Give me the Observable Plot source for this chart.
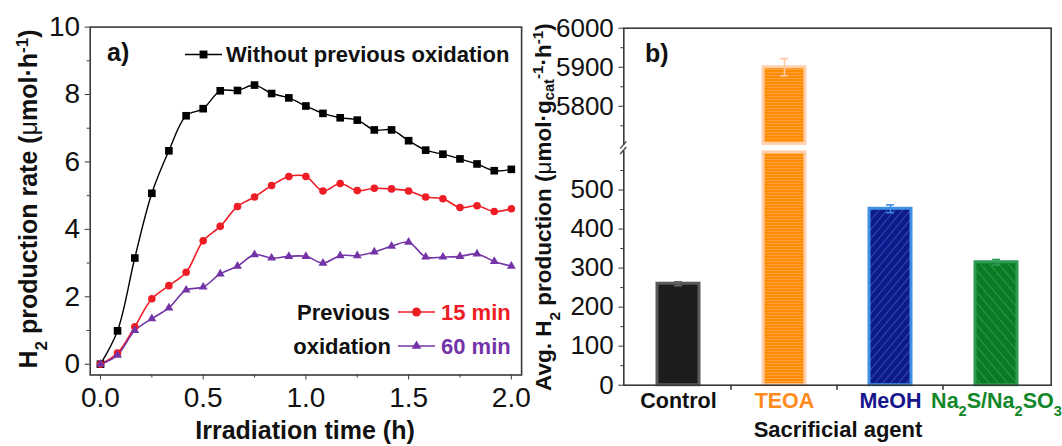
<!DOCTYPE html>
<html><head><meta charset="utf-8">
<script src="https://cdn.jsdelivr.net/npm/d3@7"></script>
<script src="https://cdn.jsdelivr.net/npm/@observablehq/plot@0.6"></script>
<style>
body{margin:0;background:#fff;}
#wrap{display:flex;width:1062px;height:446px;overflow:hidden;background:#fff;}
#wrap svg{flex:none;overflow:visible;}
</style></head><body><div id="wrap"></div>
<script>
// ---------- Panel a data ----------
const times = [0,0.083,0.167,0.25,0.333,0.417,0.5,0.583,0.667,0.75,0.833,0.917,1.0,1.083,1.167,1.25,1.333,1.417,1.5,1.583,1.667,1.75,1.833,1.917,2.0];
const withoutOx = [0,0.99,3.15,5.07,6.33,7.37,7.58,8.11,8.12,8.28,8.03,7.9,7.66,7.44,7.31,7.24,6.95,6.95,6.63,6.35,6.23,6.09,5.94,5.74,5.78];
const ox15 = [0,0.33,1.11,1.94,2.33,2.73,3.66,4.09,4.68,4.96,5.3,5.57,5.57,5.14,5.36,5.15,5.22,5.2,5.14,4.96,4.91,4.65,4.7,4.53,4.61];
const ox60 = [0,0.27,1.0,1.35,1.67,2.2,2.29,2.68,2.91,3.25,3.15,3.2,3.2,3.0,3.22,3.22,3.33,3.5,3.62,3.18,3.18,3.2,3.27,3.05,2.91];
const yTicksA = [0,2,4,6,8,10];
const yMinorA = [1,3,5,7,9];
const xTicksA = [0,0.5,1,1.5,2];
const xMinorA = [0.25,0.75,1.25,1.75];

// ---------- Panel b data ----------
const agents = ["Control","TEOA","MeOH","Na2S/Na2SO3"];
const avgH2 = [260,5900,452,315];
const errH2 = [5,22,10,7];
const yTicksB = [0,100,200,300,400,500,5800,5900,6000];
const yMinorB = [50,150,250,350,450,550,5750,5850,5950];
const breakLow = 600, breakHigh = 5700, yMaxB = 6000;

// ---------- styles ----------
const FONT_TICK = '"Liberation Sans Narrow","Arial Narrow","Liberation Sans",Arial,sans-serif';
const FONT_LAB = '"Liberation Sans",Arial,sans-serif';
const RED = "#ee1c25", PURPLE = "#7434a8", AXIS = "#3a3a3a";
const agentFill = ["#1d1d1d","url(#patTEOA)","url(#patMeOH)","url(#patNa)"];
const agentStroke = ["#5a5a5a","#ffcfae","#3f8fe6","#2c9c55"];
const agentErr = ["#666666","#ffc9a6","#3f8fe6","#2c9c55"];
const agentText = ["#111111","#ff8a1c","#16168c","#12882a"];

// ---------- Panel a ----------
const rowsW = times.map((t,i)=>({t, v: withoutOx[i]}));
const rows15 = times.map((t,i)=>({t, v: ox15[i]}));
const rows60 = times.map((t,i)=>({t, v: ox60[i]}));

const A = Plot.plot({
  width: 530, height: 446,
  marginLeft: 89.7, marginRight: 8.9, marginTop: 26.6, marginBottom: 71.5,
  x: {domain: [-0.05, 2.05]},
  y: {domain: [-0.32, 10]},
  style: {fontFamily: FONT_TICK, background: "white", color: "#111"},
  marks: [
    Plot.line(rowsW, {x:"t", y:"v", stroke:"#000", strokeWidth:1.4, curve:"catmull-rom"}),
    Plot.line(rows15, {x:"t", y:"v", stroke:RED, strokeWidth:1.6, curve:"catmull-rom"}),
    Plot.line(rows60, {x:"t", y:"v", stroke:PURPLE, strokeWidth:1.6, curve:"catmull-rom"}),
    Plot.dot(rowsW, {x:"t", y:"v", symbol:"square", fill:"#000", r:4.3}),
    Plot.dot(rows15, {x:"t", y:"v", symbol:"circle", fill:RED, r:3.8}),
    Plot.dot(rows60, {x:"t", y:"v", symbol:"triangle", fill:PURPLE, r:3.3}),
    Plot.frame({stroke: AXIS, strokeWidth: 1.6}),
    Plot.axisY({ticks: yTicksA, tickSize: 5, tickPadding: 5, fontSize: 28, label: null, stroke: AXIS, tickFormat: d => String(d)}),
    Plot.axisY({ticks: yMinorA, tickSize: 3, label: null, stroke: AXIS, tickFormat: () => ""}),
    Plot.axisX({ticks: xTicksA, tickSize: 5, tickPadding: 7, fontSize: 28, label: null, stroke: AXIS, tickFormat: d3.format(".1f")}),
    Plot.axisX({ticks: xMinorA, tickSize: 3, label: null, stroke: AXIS, tickFormat: () => ""})
  ]
});

// ---------- Panel b (broken y axis: values above the break are shifted down) ----------
const bW = 532, bML = 93.3, bMR = 11.3, bMT = 27.7, bMB = 61.3, H = 446;
const gapUnits = 14.6;
const brk = v => v <= breakLow ? v : v - breakHigh + breakLow + gapUnits;
const unbrk = u => u <= breakLow ? u : u + breakHigh - breakLow - gapUnits;

const rowsB = agents.map((a,i)=>({agent:a, v: avgH2[i], e: errH2[i], i}));
const marksB = [];
rowsB.forEach(r => {
  const segs = r.v > breakLow
    ? [{agent:r.agent, lo:0, hi:breakLow, part:"low"}, {agent:r.agent, lo:breakHigh, hi:r.v, part:"high"}]
    : [{agent:r.agent, lo:0, hi:r.v, part:"all"}];
  segs.forEach(s => marksB.push(Plot.barY([s], {
    x:"agent", y1: d => brk(d.lo), y2: d => brk(d.hi), fill: agentFill[r.i], stroke: agentStroke[r.i], strokeWidth: 3,
    insetTop: s.part==="low" ? 1.4 : 0, insetBottom: s.part==="high" ? 1.4 : 0
  })));
  marksB.push(Plot.ruleX([r], {x:"agent", y1: d=>brk(d.v-d.e), y2: d=>brk(d.v+d.e), stroke: agentErr[r.i], strokeWidth: 1.6}));
  marksB.push(Plot.tickY([r], {x:"agent", y: d=>brk(d.v+d.e), stroke: agentErr[r.i], strokeWidth: 1.6, insetLeft: 17, insetRight: 17}));
  marksB.push(Plot.tickY([r], {x:"agent", y: d=>brk(d.v-d.e), stroke: agentErr[r.i], strokeWidth: 1.6, insetLeft: 17, insetRight: 17}));
});

const B = Plot.plot({
  width: bW, height: H,
  marginLeft: bML, marginRight: bMR, marginTop: bMT, marginBottom: bMB,
  x: {domain: agents, paddingInner: 0.606, paddingOuter: 0.303},
  y: {domain: [0, brk(yMaxB)]},
  style: {fontFamily: FONT_TICK, background: "white", color: "#111"},
  marks: [
    ...marksB,
    Plot.frame({stroke: AXIS, strokeWidth: 1.6}),
    Plot.axisY({ticks: yTicksB.map(brk), tickSize: 5, tickPadding: 5, fontSize: 26, label: null, stroke: AXIS, tickFormat: u => String(Math.round(unbrk(u)))}),
    Plot.axisY({ticks: yMinorB.map(brk), tickSize: 3, label: null, stroke: AXIS, tickFormat: () => ""}),
    Plot.axisX({tickSize: 0, tickPadding: 7.5, fontSize: 21.5, label: null})
  ]
});

document.getElementById("wrap").append(A, B);

// ---------- decorations ----------
function addText(svg, o) {
  const t = d3.select(svg).append("text")
    .attr("transform", `translate(${o.x},${o.y})` + (o.rotate ? ` rotate(${o.rotate})` : ""))
    .attr("text-anchor", o.anchor || "start")
    .attr("font-size", o.size).attr("font-weight", o.weight || "bold")
    .attr("font-family", o.family || FONT_LAB).attr("fill", o.fill || "#111");
  t.html(o.html);
  return t;
}
const SUB = s => `<tspan baseline-shift="sub" font-size="68%">${s}</tspan>`;
const SUBS = s => `<tspan baseline-shift="-3" font-size="65%">${s}</tspan>`;
const SUP = s => `<tspan baseline-shift="super" font-size="68%">${s}</tspan>`;
const MU = `<tspan font-weight="normal">μ</tspan>`;

// Panel a labels
addText(A, {x: 37, y: 199, rotate: -90, anchor: "middle", size: 25,
  html: `H${SUB("2")} production rate (${MU}mol·h${SUP("-1")})`});
addText(A, {x: 305, y: 439, anchor: "middle", size: 25, html: "Irradiation time (h)"});
addText(A, {x: 107, y: 61, size: 25, html: "a)"});
// legend
const gA = d3.select(A).append("g");
function legendItem(g, x, y, color, sym) {
  g.append("line").attr("x1", x).attr("x2", x+37).attr("y1", y).attr("y2", y).attr("stroke", color).attr("stroke-width", 1.6);
  g.append("path").attr("d", d3.symbol(sym, sym===d3.symbolTriangle ? 40 : 62)()).attr("transform", `translate(${x+18.5},${y})`).attr("fill", color);
}
legendItem(gA, 185, 54.5, "#000", d3.symbolSquare);
addText(A, {x: 226, y: 62, size: 22, html: "Without previous oxidation"});
legendItem(gA, 398, 312, RED, d3.symbolCircle);
legendItem(gA, 398, 346, PURPLE, d3.symbolTriangle);
addText(A, {x: 390, y: 320, anchor: "end", size: 22, html: "Previous"});
addText(A, {x: 391, y: 354, anchor: "end", size: 22, html: "oxidation"});
addText(A, {x: 441, y: 320, size: 22, fill: RED, html: "15 min"});
addText(A, {x: 441, y: 354, size: 22, fill: PURPLE, html: "60 min"});

// Panel b: patterns
const defs = d3.select(B).insert("defs", ":first-child");
const pT = defs.append("pattern").attr("id","patTEOA").attr("patternUnits","userSpaceOnUse").attr("width",4).attr("height",3);
pT.append("rect").attr("width",4).attr("height",3).attr("fill","#ff8c00");
pT.append("rect").attr("width",4).attr("height",1).attr("fill","#ffa23a");
const pM = defs.append("pattern").attr("id","patMeOH").attr("patternUnits","userSpaceOnUse").attr("width",6).attr("height",6).attr("patternTransform","rotate(40)");
pM.append("rect").attr("width",6).attr("height",6).attr("fill","#0c1a8c");
pM.append("rect").attr("width",1).attr("height",6).attr("fill","#3549b0");
const pN = defs.append("pattern").attr("id","patNa").attr("patternUnits","userSpaceOnUse").attr("width",7).attr("height",7).attr("patternTransform","rotate(-40)");
pN.append("rect").attr("width",7).attr("height",7).attr("fill","#0b7a24");
pN.append("rect").attr("width",1).attr("height",7).attr("fill","#2f9646");

// Panel b: category labels with colors and subscripts
d3.select(B).selectAll('g[aria-label="x-axis tick label"] text').each(function() {
  const s = this.textContent, i = agents.indexOf(s);
  if (i < 0) return;
  d3.select(this).attr("fill", agentText[i]).attr("font-weight", "bold").attr("font-family", FONT_LAB)
    .html(s.replace(/(\d)/g, (m) => SUB(m)));
});

// Panel b: boundary ticks on x axis (from band scale) and axis break
const xs = B.scale("x"), ys = B.scale("y");
const yB0 = ys.apply(0);
const gB = d3.select(B).append("g").attr("stroke", AXIS).attr("stroke-width", 1.6);
agents.slice(1).forEach(a => {
  const bx = xs.apply(a) - (xs.step - xs.bandwidth) / 2;
  gB.append("line").attr("x1", bx).attr("x2", bx).attr("y1", yB0).attr("y2", yB0 + 5);
});
const yLo = ys.apply(brk(breakLow)), yHi = ys.apply(brk(breakHigh));
d3.select(B).insert("rect", "g:last-of-type").attr("x", bML - 3).attr("width", 6).attr("y", yHi).attr("height", yLo - yHi).attr("fill", "white");
[yHi, yLo].forEach(yy => gB.append("line").attr("x1", bML - 3).attr("x2", bML + 3).attr("y1", yy + 3.5).attr("y2", yy - 3.5).attr("stroke-width", 1.2));

// Panel b labels
addText(B, {x: 21, y: 207, rotate: -90, anchor: "middle", size: 22.5,
  html: `Avg. H${SUB("2")} production (${MU}mol·g${SUBS("cat")}${SUP("-1")}·h${SUP("-1")})`});
addText(B, {x: 308, y: 437, anchor: "middle", size: 22, html: "Sacrificial agent"});
addText(B, {x: 115, y: 62, size: 25, html: "b)"});
</script></body></html>
